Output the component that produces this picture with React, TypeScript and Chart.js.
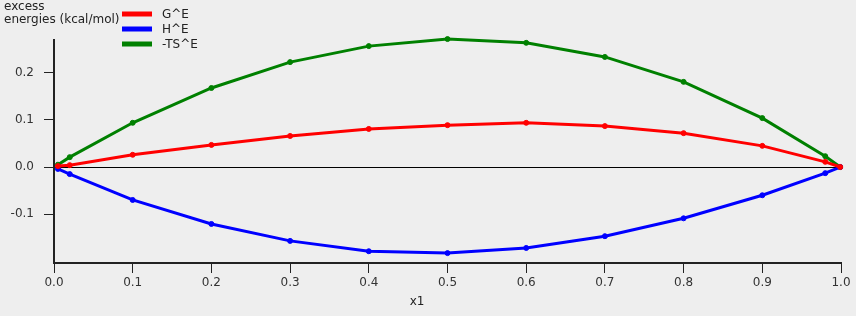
import React, { useEffect, useRef } from "react";
import { Chart, registerables } from "chart.js";

Chart.register(...registerables);

const xValues = [0.005, 0.02, 0.1, 0.2, 0.3, 0.4, 0.5, 0.6, 0.7, 0.8, 0.9, 0.98, 0.999];
const gE = [0.002, 0.004, 0.026, 0.047, 0.066, 0.081, 0.089, 0.094, 0.087, 0.072, 0.045, 0.011, 0.0];
const hE = [-0.004, -0.015, -0.070, -0.121, -0.157, -0.179, -0.183, -0.172, -0.147, -0.109, -0.060, -0.013, 0.0];
const tsE = [0.005, 0.021, 0.094, 0.168, 0.223, 0.257, 0.272, 0.264, 0.234, 0.181, 0.104, 0.023, 0.0];
const seriesNames = ["G^E", "H^E", "-TS^E"];
const seriesColors = ["#ff0000", "#0000ff", "#008000"];
const yTickValues = [-0.1, 0.0, 0.1, 0.2];
const yTitleLines = ["excess", "energies (kcal/mol)"];
const xTitle = "x1";

const FONT = "DejaVu Sans";

const overlayPlugin = {
  id: "overlay",
  afterDraw(chart: any) {
    const ctx = chart.ctx as CanvasRenderingContext2D;
    ctx.save();
    ctx.font = `12px "${FONT}"`;
    ctx.fillStyle = "#222";
    ctx.textBaseline = "middle";
    ctx.textAlign = "left";
    ctx.fillText(yTitleLines[0], 4, 7);
    ctx.fillText(yTitleLines[1], 4, 20);
    // legend
    seriesNames.forEach((name, i) => {
      const y = 14 + i * 15;
      ctx.fillStyle = seriesColors[i];
      ctx.fillRect(122, y - 2.5, 30, 5);
      ctx.fillStyle = "#222";
      ctx.fillText(name, 162, y + 0.5);
    });
    ctx.textAlign = "center";
    ctx.fillText(xTitle, 417, 302);
    ctx.restore();
  },
};

export default function App() {
  const ref = useRef<HTMLCanvasElement>(null);
  useEffect(() => {
    document.body.style.margin = "0";
    document.body.style.background = "#eeeeee";
    const datasets = [gE, hE, tsE].map((vals, i) => ({
      label: seriesNames[i],
      data: xValues.map((x, j) => ({ x, y: vals[j] })),
      borderColor: seriesColors[i],
      backgroundColor: seriesColors[i],
      borderWidth: 3,
      pointRadius: 2.5,
      pointBorderWidth: 1,
      pointHoverRadius: 2.5,
      tension: 0,
      clip: false as any,
    }));
    const chart = new Chart(ref.current!, {
      type: "line",
      data: { datasets },
      plugins: [overlayPlugin],
      options: {
        animation: false,
        responsive: false,
        events: [],
        layout: { padding: { top: 40, right: 15, left: 0, bottom: 0 } },
        plugins: { legend: { display: false }, tooltip: { enabled: false } },
        scales: {
          x: {
            type: "linear",
            min: 0,
            max: 1,
            afterFit: (s: any) => { s.height = 53; },
            afterBuildTicks: (s: any) => {
              s.ticks = Array.from({ length: 11 }, (_, i) => ({ value: i / 10 }));
            },
            ticks: {
              callback: (v: any) => Number(v).toFixed(1),
              color: "#333",
              font: { family: FONT, size: 12 },
              padding: 3,
              maxRotation: 0,
              autoSkip: false,
            },
            grid: { drawOnChartArea: false, drawTicks: true, tickLength: 10, tickColor: "#222", tickWidth: 1 },
            border: { display: true, color: "#222", width: 2 },
          },
          y: {
            type: "linear",
            min: -0.204,
            max: 0.27,
            afterFit: (s: any) => { s.width = 54; },
            afterBuildTicks: (s: any) => {
              s.ticks = yTickValues.map((v) => ({ value: v }));
            },
            ticks: {
              callback: (v: any) => Number(v).toFixed(1),
              color: "#333",
              font: { family: FONT, size: 12 },
              padding: 10,
            },
            grid: {
              drawOnChartArea: true,
              drawTicks: true,
              tickLength: 10,
              tickColor: "#222",
              color: (c: any) => (c.tick && Math.abs(c.tick.value) < 1e-9 ? "#000" : "rgba(0,0,0,0)"),
              lineWidth: 1,
            },
            border: { display: true, color: "#222", width: 2 },
          },
        },
      },
    });
    return () => chart.destroy();
  }, []);
  return (
    <div style={{ position: "fixed", left: 0, top: 0, width: 856, height: 316, background: "#eeeeee" }}>
      <canvas ref={ref} width={856} height={316} style={{ width: 856, height: 316 }} />
    </div>
  );
}
